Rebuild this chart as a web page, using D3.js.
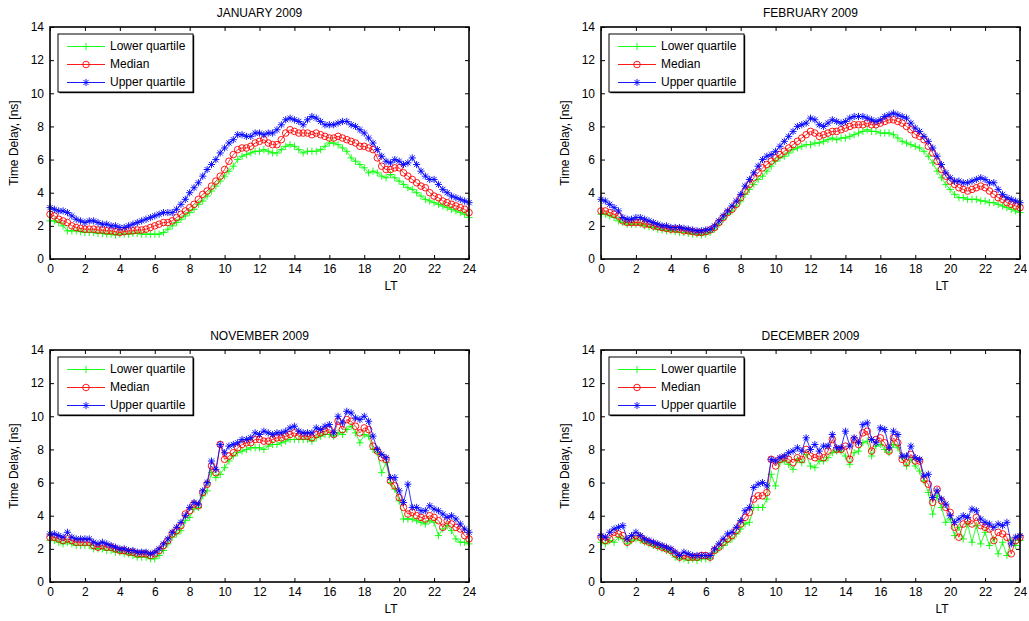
<!DOCTYPE html>
<html>
<head>
<meta charset="utf-8">
<script src="https://cdn.jsdelivr.net/npm/d3@7"></script>
<style>
  html, body { margin: 0; padding: 0; background: #fff; }
  svg { display: block; font-family: "Liberation Sans", Arial, sans-serif; }
</style>
</head>
<body>
<div id="chart"></div>
<script>
// sample times, every 15 min from 0 to 24 LT
const HOURS = d3.range(0, 24.001, 0.25);
const X_TICKS = [0, 2, 4, 6, 8, 10, 12, 14, 16, 18, 20, 22, 24];
const Y_TICKS = [0, 2, 4, 6, 8, 10, 12, 14];
const TITLES = ["JANUARY 2009", "FEBRUARY 2009", "NOVEMBER 2009", "DECEMBER 2009"];
const SERIES_NAMES = ["Lower quartile", "Median", "Upper quartile"];

const janLower = [
  2.3,2.3,2.2,2.0,1.7,1.7,1.7,1.65, 1.6,1.6,1.6,1.55,1.55,1.5,1.5,1.45,
  1.5,1.5,1.5,1.55,1.55,1.5,1.5,1.5, 1.5,1.5,1.6,1.8,2.0,2.2,2.4,2.6,
  2.8,3.0,3.3,3.5,3.8,4.1,4.4,4.7, 5.0,5.3,5.6,6.0,6.2,6.3,6.4,6.5,
  6.5,6.6,6.5,6.4,6.4,6.6,6.8,6.9, 6.8,6.6,6.4,6.5,6.5,6.5,6.6,6.8,
  7.0,7.0,6.9,6.7,6.5,6.1,5.9,5.7, 5.5,5.2,5.3,5.2,5.0,4.9,5.1,4.9,
  4.7,4.5,4.3,4.2,4.0,3.8,3.6,3.5, 3.4,3.3,3.2,3.1,3.0,2.9,2.8,2.7,
  2.5];
const janMedian = [
  2.7,2.6,2.4,2.3,2.2,2.0,1.9,1.85, 1.8,1.8,1.8,1.75,1.75,1.7,1.7,1.65,
  1.6,1.65,1.7,1.7,1.75,1.75,1.8,1.9, 2.0,2.1,2.2,2.2,2.3,2.5,2.7,2.9,
  3.1,3.3,3.6,3.9,4.1,4.4,4.7,5.0, 5.4,5.9,6.3,6.6,6.7,6.7,6.8,7.0,
  7.1,7.2,7.0,6.9,6.9,7.2,7.6,7.8, 7.7,7.6,7.6,7.6,7.5,7.6,7.5,7.4,
  7.3,7.3,7.4,7.3,7.2,7.1,7.0,6.8, 6.8,6.7,6.6,6.1,5.6,5.4,5.4,5.5,
  5.5,5.2,5.0,4.8,4.6,4.4,4.3,4.0, 3.8,3.7,3.5,3.4,3.3,3.2,3.1,3.0,
  2.8];
const janUpper = [
  3.1,3.0,2.9,2.9,2.8,2.6,2.4,2.3, 2.2,2.3,2.3,2.2,2.1,2.1,2.0,2.0,
  1.9,1.9,2.0,2.1,2.2,2.3,2.4,2.5, 2.6,2.7,2.8,2.8,2.8,3.0,3.3,3.6,
  4.0,4.3,4.6,5.0,5.4,5.7,6.0,6.4, 6.7,7.0,7.2,7.5,7.5,7.4,7.4,7.6,
  7.6,7.5,7.6,7.6,7.8,8.1,8.4,8.5, 8.4,8.3,8.1,8.4,8.6,8.5,8.3,8.1,
  8.1,8.1,8.2,8.3,8.3,8.1,8.0,7.8, 7.6,7.3,7.0,6.6,6.2,5.9,5.8,6.0,
  5.9,5.7,5.8,6.1,5.7,5.3,5.0,4.8, 4.8,4.5,4.2,4.0,3.8,3.7,3.6,3.5,
  3.4];

const febLower = [
  2.7,2.7,2.6,2.5,2.3,2.2,2.1,2.1, 2.1,2.1,2.0,1.95,1.9,1.8,1.75,1.7,
  1.7,1.65,1.6,1.6,1.55,1.5,1.5,1.45, 1.5,1.6,1.8,2.1,2.4,2.7,2.9,3.2,
  3.5,3.9,4.2,4.5,4.8,5.0,5.3,5.6, 5.9,6.1,6.2,6.4,6.6,6.7,6.8,6.9,
  6.9,7.0,7.0,7.1,7.2,7.3,7.2,7.3, 7.3,7.4,7.5,7.6,7.7,7.8,7.7,7.7,
  7.6,7.6,7.6,7.5,7.3,7.1,7.0,6.9, 6.8,6.7,6.5,6.2,5.8,5.3,4.9,4.5,
  4.2,3.9,3.7,3.7,3.6,3.6,3.6,3.5, 3.5,3.4,3.4,3.3,3.2,3.1,3.0,2.9,
  2.8];
const febMedian = [
  2.9,2.9,2.8,2.7,2.6,2.3,2.2,2.2, 2.2,2.2,2.1,2.1,2.0,1.95,1.9,1.85,
  1.8,1.8,1.8,1.7,1.7,1.65,1.6,1.6, 1.65,1.75,1.9,2.2,2.5,2.8,3.0,3.3,
  3.7,4.1,4.5,4.9,5.2,5.5,5.7,5.9, 6.1,6.3,6.5,6.7,6.9,7.1,7.3,7.5,
  7.7,7.6,7.4,7.5,7.6,7.7,7.7,7.8, 7.9,8.0,8.1,8.1,8.1,8.2,8.1,8.1,
  8.2,8.3,8.4,8.4,8.3,8.2,8.0,7.8, 7.5,7.4,7.2,6.8,6.4,5.9,5.4,5.0,
  4.7,4.5,4.3,4.2,4.1,4.2,4.3,4.4, 4.3,4.1,3.9,3.7,3.6,3.4,3.3,3.2,
  3.1];
const febUpper = [
  3.6,3.5,3.3,3.1,2.9,2.5,2.4,2.4, 2.5,2.5,2.4,2.3,2.2,2.1,2.0,2.0,
  1.9,1.9,1.9,1.85,1.8,1.75,1.7,1.7, 1.75,1.8,2.0,2.3,2.6,2.9,3.2,3.5,
  3.9,4.4,4.8,5.2,5.6,6.0,6.2,6.3, 6.5,6.8,7.1,7.4,7.7,8.0,8.1,8.2,
  8.5,8.4,8.1,8.0,8.2,8.4,8.3,8.2, 8.3,8.5,8.6,8.6,8.6,8.5,8.4,8.3,
  8.4,8.6,8.7,8.8,8.7,8.6,8.5,8.2, 7.9,7.7,7.4,7.1,6.7,6.2,5.7,5.2,
  4.9,4.7,4.7,4.6,4.6,4.7,4.8,4.9, 4.8,4.6,4.6,4.2,3.9,3.7,3.6,3.5,
  3.4];

const novLower = [
  2.5,2.5,2.4,2.3,2.4,2.3,2.2,2.2, 2.2,2.2,2.0,2.0,2.0,1.9,1.9,1.8,
  1.8,1.7,1.7,1.6,1.5,1.5,1.5,1.4, 1.4,1.6,1.9,2.3,2.7,2.9,3.1,3.7,
  3.9,4.4,4.5,5.2,5.5,6.6,6.3,6.5, 6.9,7.3,7.6,7.8,7.9,8.0,8.1,8.1,
  8.1,8.0,8.2,8.3,8.3,8.4,8.5,8.6, 8.6,8.6,8.6,8.6,8.5,8.7,8.8,8.9,
  8.9,8.8,9.0,8.9,9.2,9.4,9.0,8.4, 8.9,8.8,8.0,7.8,6.6,7.2,6.0,5.6,
  4.9,3.8,3.8,3.8,3.7,3.6,3.5,3.7, 3.6,2.8,3.2,3.4,3.1,2.6,2.4,2.4,
  2.3];
const novMedian = [
  2.7,2.7,2.6,2.5,2.6,2.5,2.4,2.4, 2.4,2.4,2.2,2.1,2.2,2.1,2.1,2.0,
  1.9,1.9,1.8,1.8,1.7,1.7,1.7,1.6, 1.7,1.9,2.2,2.5,2.9,3.1,3.4,4.1,
  4.3,4.7,4.6,5.4,5.9,7.0,6.6,8.3, 7.4,7.6,7.8,8.1,8.3,8.4,8.4,8.6,
  8.6,8.5,8.5,8.6,8.7,8.7,8.8,8.9, 9.0,8.8,8.8,8.8,8.7,8.9,9.0,9.1,
  9.2,8.9,9.7,9.2,9.8,9.7,9.4,9.0, 9.3,9.2,8.2,7.9,7.5,7.4,6.1,5.8,
  5.1,4.5,4.1,4.2,4.0,3.9,3.8,4.0, 3.9,3.7,3.3,3.7,3.5,3.3,3.2,2.8,
  2.6];
const novUpper = [
  2.9,2.9,2.8,2.7,3.0,2.7,2.6,2.6, 2.6,2.6,2.4,2.3,2.4,2.3,2.2,2.1,
  2.0,2.0,1.9,1.9,1.8,1.8,1.8,1.7, 1.8,2.0,2.3,2.6,3.0,3.3,3.6,4.0,
  4.5,4.8,4.7,5.5,6.0,7.3,6.8,8.3, 7.8,8.2,8.3,8.4,8.6,8.6,8.7,9.0,
  8.9,9.1,9.0,8.9,9.0,9.0,9.1,9.3, 9.4,9.1,9.0,9.0,9.0,9.3,9.2,9.4,
  9.5,9.0,10.0,9.6,10.3,10.2,9.9,9.8, 10.0,9.7,8.8,8.0,7.7,7.5,6.3,6.3,
  5.5,4.8,5.9,4.5,4.5,4.3,4.3,4.6, 4.4,4.3,4.1,3.9,4.0,3.8,3.5,3.2,
  3.0];

const decLower = [
  2.4,2.3,2.5,2.4,2.7,2.6,2.3,2.5, 2.6,2.5,2.4,2.3,2.2,2.1,2.0,1.9,
  1.8,1.5,1.4,1.4,1.3,1.4,1.3,1.4, 1.4,1.4,1.8,2.0,2.2,2.4,2.6,2.9,
  3.2,3.5,3.6,4.5,4.5,4.5,5.0,6.5, 5.8,7.2,7.3,7.1,6.8,7.4,7.2,7.7,
  7.0,6.9,7.3,7.3,7.5,7.8,7.9,7.9, 7.6,7.1,7.8,7.9,8.4,8.5,7.6,8.2,
  8.3,8.0,7.8,8.3,8.1,7.5,7.0,7.4, 7.0,6.7,6.1,5.4,4.1,5.2,4.5,3.6,
  3.8,2.8,3.3,2.6,3.5,2.4,3.4,2.3, 3.0,2.2,2.6,1.7,2.4,1.6,2.5,2.2,
  2.5];
const decMedian = [
  2.7,2.5,2.6,3.0,2.9,2.8,2.4,2.6, 2.8,2.7,2.5,2.4,2.3,2.2,2.1,2.0,
  1.9,1.7,1.5,1.6,1.5,1.5,1.5,1.6, 1.6,1.5,1.9,2.1,2.4,2.6,2.8,3.1,
  3.5,3.9,4.2,5.0,5.2,5.2,5.4,7.4, 7.0,7.4,7.5,7.4,7.2,7.5,7.4,8.0,
  7.6,7.5,7.6,7.5,7.9,8.6,8.0,8.0, 8.2,7.4,8.6,8.3,9.0,9.1,7.9,8.6,
  8.7,8.4,7.9,8.7,8.4,7.4,7.2,7.7, 7.3,7.3,6.2,5.9,4.8,5.6,4.9,4.5,
  4.2,3.3,2.7,3.5,3.7,3.5,3.9,3.4, 3.3,3.2,2.5,3.0,2.9,2.7,1.7,2.5,
  2.7];
const decUpper = [
  2.8,2.7,3.0,3.2,3.3,3.4,2.6,2.8, 3.0,2.8,2.6,2.5,2.4,2.3,2.2,2.1,
  2.0,1.8,1.6,1.8,1.7,1.6,1.6,1.6, 1.6,1.6,2.0,2.3,2.6,2.9,3.0,3.3,
  3.7,4.3,4.5,5.7,5.9,6.0,5.8,7.4, 7.3,7.5,7.6,7.8,7.9,8.1,7.9,8.7,
  8.0,8.3,7.9,8.2,8.2,8.9,8.1,8.1, 9.1,8.2,8.7,8.4,9.5,9.6,8.6,8.4,
  9.3,9.2,8.1,9.1,8.9,7.6,7.6,8.2, 7.5,7.4,6.4,6.5,5.1,5.5,5.0,4.7,
  4.0,3.6,3.8,4.0,3.9,4.4,4.3,3.8, 3.6,3.5,3.3,3.5,3.4,3.6,2.3,2.7,
  2.8];

const panels = [
  { title: TITLES[0], series: [janLower, janMedian, janUpper] },
  { title: TITLES[1], series: [febLower, febMedian, febUpper] },
  { title: TITLES[2], series: [novLower, novMedian, novUpper] },
  { title: TITLES[3], series: [decLower, decMedian, decUpper] }
];

const COLORS = ["#00ff00", "#ff0000", "#0000ff"];
const MARKERS = ["plus", "circle", "star"];

const W = 1029, H = 621;
const lefts = [50, 601], tops = [27, 350];
const pw = 419, ph = 232;

const svg = d3.select("#chart").append("svg")
  .attr("width", W).attr("height", H);

function drawMarker(g, kind, color) {
  if (kind === "circle") {
    g.append("circle").attr("r", 3.3)
      .attr("fill", "none").attr("stroke", color).attr("stroke-width", 0.9);
  } else if (kind === "plus") {
    g.append("path").attr("d", "M-3.6,0H3.6M0,-3.6V3.6")
      .attr("stroke", color).attr("stroke-width", 0.9);
  } else {
    g.append("path").attr("d", "M-3.6,0H3.6M0,-3.6V3.6M-2.6,-2.6L2.6,2.6M-2.6,2.6L2.6,-2.6")
      .attr("stroke", color).attr("stroke-width", 0.9);
  }
}

panels.forEach((p, i) => {
  const left = lefts[i % 2], top = tops[Math.floor(i / 2)];
  const g = svg.append("g").attr("transform", `translate(${left},${top})`);

  const x = d3.scaleLinear().domain([0, 24]).range([0, pw]);
  const y = d3.scaleLinear().domain([0, 14]).range([ph, 0]);

  // axes with inward ticks on all four sides
  const styleAxis = sel => {
    sel.select(".domain").remove();
    sel.selectAll("line").attr("stroke", "#000");
    sel.selectAll("text").attr("fill", "#000").style("font-size", "12px");
  };
  g.append("g").attr("transform", `translate(0,${ph})`)
    .call(d3.axisBottom(x).tickValues(X_TICKS).tickSize(-4).tickPadding(5).tickFormat(d3.format("d")))
    .call(styleAxis);
  g.append("g")
    .call(d3.axisTop(x).tickValues(X_TICKS).tickSize(-4).tickFormat(""))
    .call(styleAxis);
  g.append("g")
    .call(d3.axisLeft(y).tickValues(Y_TICKS).tickSize(-4).tickPadding(6).tickFormat(d3.format("d")))
    .call(styleAxis);
  g.append("g").attr("transform", `translate(${pw},0)`)
    .call(d3.axisRight(y).tickValues(Y_TICKS).tickSize(-4).tickFormat(""))
    .call(styleAxis);

  // series: lower, median, upper (upper drawn last)
  const line = d3.line().x((d, j) => x(HOURS[j])).y(d => y(d));
  p.series.forEach((vals, k) => {
    g.append("path").datum(vals)
      .attr("d", line)
      .attr("fill", "none")
      .attr("stroke", COLORS[k])
      .attr("stroke-width", 0.8);
    const mg = g.append("g");
    vals.forEach((v, j) => {
      const m = mg.append("g").attr("transform", `translate(${x(HOURS[j])},${y(v)})`);
      drawMarker(m, MARKERS[k], COLORS[k]);
    });
  });

  // frame
  g.append("rect").attr("width", pw).attr("height", ph)
    .attr("fill", "none").attr("stroke", "#000").attr("stroke-width", 1.6);

  // title and labels
  g.append("text").attr("x", pw / 2).attr("y", -13)
    .attr("text-anchor", "middle").attr("dominant-baseline", "middle")
    .style("font-size", "12px").text(p.title);
  g.append("text").attr("x", 341).attr("y", ph + 28)
    .attr("text-anchor", "middle").attr("dominant-baseline", "middle")
    .style("font-size", "12px").text("LT");
  g.append("text")
    .attr("transform", `translate(-35,${ph / 2}) rotate(-90)`)
    .attr("text-anchor", "middle").attr("dominant-baseline", "middle")
    .style("font-size", "12px").text("Time Delay, [ns]");

  // legend
  const lg = g.append("g").attr("transform", "translate(8,7)");
  lg.append("rect").attr("x", 1.2).attr("y", 1.2).attr("width", 135).attr("height", 58).attr("fill", "#000");
  lg.append("rect").attr("width", 135).attr("height", 58)
    .attr("fill", "#fff").attr("stroke", "#000").attr("stroke-width", 1);
  SERIES_NAMES.forEach((name, k) => {
    const ly = 12.5 + k * 18;
    lg.append("line").attr("x1", 9).attr("x2", 47).attr("y1", ly).attr("y2", ly)
      .attr("stroke", COLORS[k]).attr("stroke-width", 0.9);
    drawMarker(lg.append("g").attr("transform", `translate(28,${ly})`), MARKERS[k], COLORS[k]);
    lg.append("text").attr("x", 52).attr("y", ly)
      .attr("dominant-baseline", "middle")
      .style("font-size", "12px").text(name);
  });
});
</script>
</body>
</html>
